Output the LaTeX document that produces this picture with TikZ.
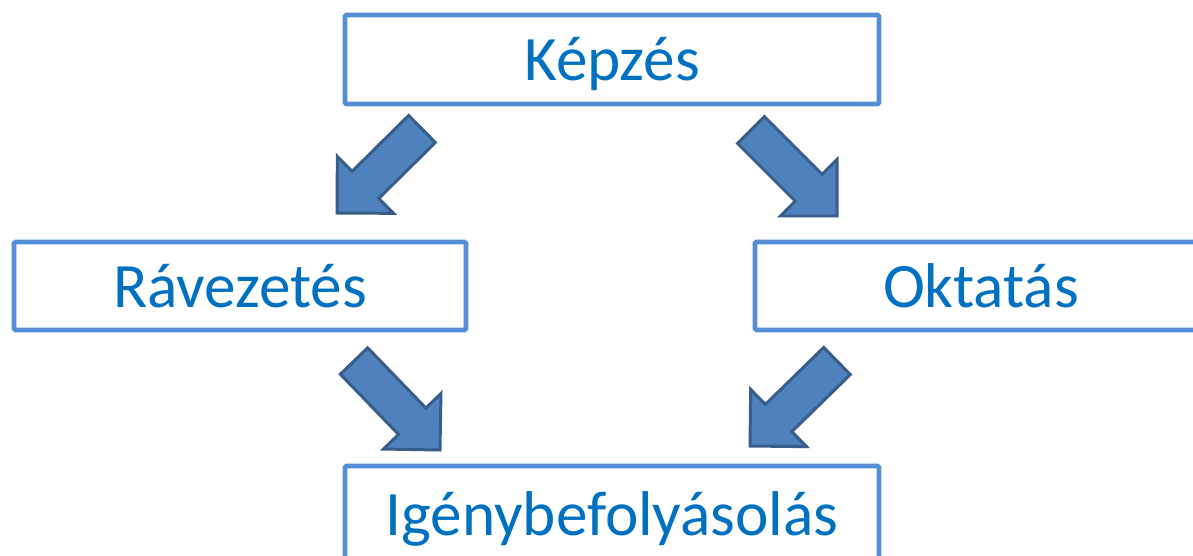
\documentclass[tikz,border=0pt]{standalone}
\usepackage{fontspec}
\setmainfont{Carlito}
\usetikzlibrary{calc}
\definecolor{boxblue}{HTML}{558ED5}
\definecolor{textblue}{HTML}{0070C0}
\definecolor{arrowfill}{HTML}{4F81BD}
\definecolor{arrowline}{HTML}{385D8A}
\tikzset{
  stage/.style={draw=boxblue, line width=2.7pt, text=textblue, inner sep=0pt,
    font=\fontsize{36}{40}\selectfont, text height=24pt, text depth=0pt,
    rounded corners=0.8pt},
  fatbody/.style={fill=arrowfill, draw=arrowline, line width=1.7pt, miter limit=4}
}
% block arrow from #1 (tail) to #2 (tip)
\newcommand{\fatarrow}[2]{%
  \coordinate (hb) at ($(#2)!\headl cm!(#1)$);
  \draw[fatbody] ($(#1)!\shaftw cm!90:(#2)$) -- ($(hb)!\shaftw cm!90:(#2)$)
    -- ($(hb)!\headw cm!90:(#2)$) -- (#2) -- ($(hb)!\headw cm!-90:(#2)$)
    -- ($(hb)!\shaftw cm!-90:(#2)$) -- ($(#1)!\shaftw cm!-90:(#2)$) -- cycle;}
\begin{document}
\begin{tikzpicture}[x=0.02cm,y=-0.02cm]
\pgfmathsetmacro{\shaftw}{0.38}
\pgfmathsetmacro{\headw}{0.80}
\pgfmathsetmacro{\headl}{0.80}
\useasboundingbox (0,0) rectangle (1193,555);
\begin{scope}
\clip (0,0) rectangle (1193,555);
\node[stage, minimum width=10.68cm, minimum height=1.78cm] (kepzes) at (612,59.5) {Képzés};
\node[stage, minimum width=9.04cm, minimum height=1.76cm] (ravez) at (240,286) {Rávezetés};
\node[stage, minimum width=9.04cm, minimum height=1.76cm] (oktat) at (981,286) {Oktatás};
\node[stage, minimum width=10.68cm, minimum height=1.92cm] (igeny) at (612,514) {Igénybefolyásolás};
\end{scope}
\coordinate (kr1) at (422,129);
\coordinate (kr2) at (337,213);
\coordinate (ko1) at (751,130);
\coordinate (ko2) at (837,216);
\coordinate (ri1) at (354,361);
\coordinate (ri2) at (440,450);
\coordinate (oi1) at (837,361);
\coordinate (oi2) at (750,446);
\fatarrow{kr1}{kr2}
\fatarrow{ko1}{ko2}
\fatarrow{ri1}{ri2}
\fatarrow{oi1}{oi2}
\end{tikzpicture}
\end{document}
